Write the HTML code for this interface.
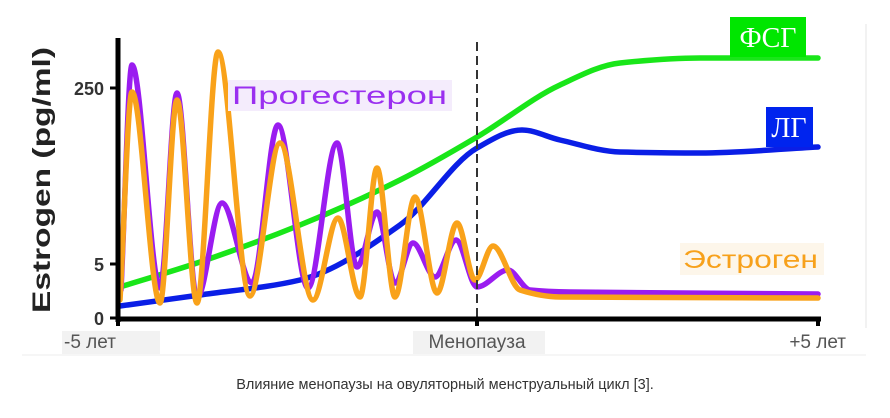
<!DOCTYPE html>
<html><head><meta charset="utf-8">
<style>
html,body{margin:0;padding:0;background:#fff;}
body{width:890px;height:418px;overflow:hidden;position:relative;font-family:"Liberation Sans","DejaVu Sans",sans-serif;}
svg{position:absolute;left:0;top:0;}
</style></head>
<body>
<svg id="chart" width="890" height="418" viewBox="0 0 890 418">
  <line x1="866" y1="24" x2="866" y2="328" stroke="#e6e6e6" stroke-width="1"/>
  <line x1="22" y1="355" x2="866" y2="355" stroke="#eeeeee" stroke-width="1"/>
  <g id="series"></g>
  <line x1="477" y1="42" x2="477" y2="318" stroke="#333" stroke-width="2" stroke-dasharray="9,5"/>
  <line x1="118" y1="38" x2="118" y2="322" stroke="#000" stroke-width="5"/>
  <line x1="116" y1="319" x2="821" y2="319" stroke="#000" stroke-width="5"/>
  <g id="yticks"></g>
  <g id="xticks"></g>
  <text transform="translate(50,180) rotate(-90)" text-anchor="middle" font-size="25" font-weight="bold" fill="#222" textLength="266" lengthAdjust="spacingAndGlyphs">Estrogen (pg/ml)</text>

  <rect x="228" y="80" width="224" height="31" fill="#f4ecfc"/>
  <text x="232" y="104" font-size="25" fill="#9a2ff0" textLength="215" lengthAdjust="spacingAndGlyphs">Прогестерон</text>
  <rect x="730" y="17" width="76" height="40" fill="#00e600"/>
  <text x="768" y="47" text-anchor="middle" font-size="28" font-family="Liberation Serif, serif" fill="#fff">ФСГ</text>
  <rect x="766" y="107" width="47" height="40" fill="#0024ee"/>
  <text x="789" y="137" text-anchor="middle" font-size="28" font-family="Liberation Serif, serif" fill="#fff">ЛГ</text>
  <rect x="680" y="243" width="144" height="32" fill="#fdf6ea"/>
  <text x="683" y="268" font-size="25" fill="#f7a11b" textLength="135" lengthAdjust="spacingAndGlyphs">Эстроген</text>

  <text x="445" y="389" text-anchor="middle" font-size="14.5" fill="#333">Влияние менопаузы на овуляторный менструальный цикл [3].</text>
</svg>
<script>
// timeline units: 0 = -5 years, 359 = menopause, 700 = +5 years; values in chart units
const xTickPos = [0, 359, 700];
const xTickLabels = ["-5 лет", "Менопауза", "+5 лет"];
const yTickPos = [0, 54, 230];
const yTickLabels = ["0", "5", "250"];

const fshX = [2, 82, 182, 282, 359, 442, 502, 582, 700];
const fshY = [31, 56, 93, 138, 181, 233, 255, 260, 260];
const lhX = [2, 82, 182, 282, 359, 404, 442, 502, 582, 700];
const lhY = [12, 23, 38, 93, 170, 188, 178, 166, 165, 171];
const progX = [3, 14, 42, 59, 79, 104, 134, 160, 190, 219, 239, 259, 277, 295, 317, 338, 359, 390, 412, 452, 700];
const progY = [28, 253, 30, 225, 20, 115, 35, 193, 30, 175, 51, 106, 35, 75, 41, 78, 31, 48, 28, 26, 24];
const estrX = [2, 14, 42, 59, 79, 100, 132, 162, 195, 220, 242, 259, 277, 297, 319, 339, 357, 375, 402, 442, 700];
const estrY = [18, 226, 15, 218, 15, 266, 22, 175, 18, 100, 21, 150, 21, 121, 25, 95, 38, 72, 28, 21, 20];

const X0 = 118, XM = 477, X1 = 818, Y0 = 318;
function xs(t){ return t <= 359 ? X0 + (XM - X0) * t / 359 : XM + (X1 - XM) * (t - 359) / 341; }
function ys(v){ return Y0 - v; }

function monotonePath(xa, ya){
  const n = xa.length, px = xa.map(xs), py = ya.map(ys);
  const d = [], m = [];
  for (let i = 0; i < n - 1; i++) d.push((py[i+1]-py[i])/(px[i+1]-px[i]));
  for (let i = 0; i < n; i++){
    if (i === 0) m.push(d[0]); else if (i === n-1) m.push(d[n-2]);
    else m.push(d[i-1]*d[i] <= 0 ? 0 : 2/(1/d[i-1]+1/d[i]));
  }
  let s = "M" + px[0].toFixed(1) + "," + py[0].toFixed(1);
  for (let i = 0; i < n - 1; i++){
    const h = (px[i+1]-px[i])/3;
    s += " C" + (px[i]+h).toFixed(1) + "," + (py[i]+m[i]*h).toFixed(1) + " " +
         (px[i+1]-h).toFixed(1) + "," + (py[i+1]-m[i+1]*h).toFixed(1) + " " +
         px[i+1].toFixed(1) + "," + py[i+1].toFixed(1);
  }
  return s;
}
const NS = "http://www.w3.org/2000/svg";
const g = document.getElementById("series");
function addLine(xa, ya, color, name){
  const p = document.createElementNS(NS, "path");
  p.setAttribute("d", monotonePath(xa, ya));
  p.setAttribute("fill", "none");
  p.setAttribute("stroke", color);
  p.setAttribute("stroke-width", "5.5");
  p.setAttribute("stroke-linecap", "round");
  
  
  g.appendChild(p);
}
addLine(fshX, fshY, "#19e619", "fsh-line");
addLine(lhX, lhY, "#0a1ee6", "lh-line");
addLine(progX, progY, "#9a1cf0", "progesterone-line");
addLine(estrX, estrY, "#f9a21a", "estrogen-line");

const yt = document.getElementById("yticks");
yTickPos.forEach((v, i) => {
  const l = document.createElementNS(NS, "line");
  l.setAttribute("x1", 110); l.setAttribute("x2", 118);
  l.setAttribute("y1", ys(v)); l.setAttribute("y2", ys(v));
  l.setAttribute("stroke", "#000"); l.setAttribute("stroke-width", "3");
  
  
  yt.appendChild(l);
  const t = document.createElementNS(NS, "text");
  t.setAttribute("x", 104); t.setAttribute("y", ys(v) + 7);
  t.setAttribute("text-anchor", "end"); t.setAttribute("font-size", "18");
  t.setAttribute("font-weight", "bold"); t.setAttribute("fill", "#333");
  t.textContent = yTickLabels[i];
  
  
  yt.appendChild(t);
});
const xt = document.getElementById("xticks");
const boxW = [98, 132, 0];
xTickPos.forEach((v, i) => {
  const x = xs(v);
  const l = document.createElementNS(NS, "line");
  l.setAttribute("x1", x); l.setAttribute("x2", x);
  l.setAttribute("y1", 318); l.setAttribute("y2", 326);
  l.setAttribute("stroke", "#000"); l.setAttribute("stroke-width", "4");
  
  
  xt.appendChild(l);
  let bx, tx, anchor;
  if (i === 0){ bx = 62; tx = 64; anchor = "start"; }
  else if (i === 1){ bx = x - 64; tx = x; anchor = "middle"; }
  else { bx = 0; tx = 846; anchor = "end"; }
  if (boxW[i] > 0){
    const r = document.createElementNS(NS, "rect");
    r.setAttribute("x", bx); r.setAttribute("y", 331);
    r.setAttribute("width", boxW[i]); r.setAttribute("height", 23);
    r.setAttribute("fill", "#f2f2f2");
    
    
    xt.appendChild(r);
  }
  const t = document.createElementNS(NS, "text");
  t.setAttribute("x", tx); t.setAttribute("y", 348);
  t.setAttribute("text-anchor", anchor); t.setAttribute("font-size", "19");
  t.setAttribute("fill", "#555");
  t.textContent = xTickLabels[i];
  
  
  xt.appendChild(t);
});
</script>
</body></html>
